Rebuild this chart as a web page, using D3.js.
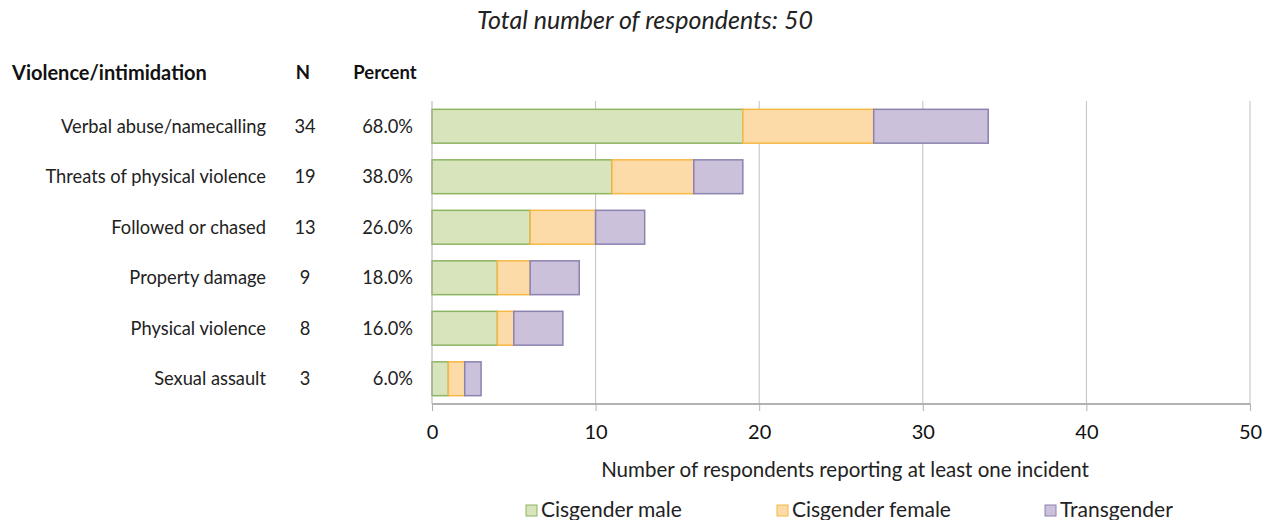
<!DOCTYPE html>
<html>
<head>
<meta charset="utf-8">
<script src="https://cdn.jsdelivr.net/npm/d3@7"></script>
<style>
  body { margin: 0; background: #fff; }
  svg { display: block; font-family: Lato, "Open Sans", sans-serif; }
</style>
</head>
<body>
<svg id="chart" width="1272" height="520"></svg>
<script>
// Incident categories and counts by respondent group
const categories = ["Verbal abuse/namecalling", "Threats of physical violence", "Followed or chased",
  "Property damage", "Physical violence", "Sexual assault"];
const cisMale   = [19, 11, 6, 4, 4, 1];
const cisFemale = [8, 5, 4, 2, 1, 1];
const transgender = [7, 3, 3, 3, 3, 1];
const totalN = [34, 19, 13, 9, 8, 3];
const percents = ["68.0%", "38.0%", "26.0%", "18.0%", "16.0%", "6.0%"];
const seriesNames = ["Cisgender male", "Cisgender female", "Transgender"];
const xTicks = [0, 10, 20, 30, 40, 50];
const respondents = 50;

const fills = ["#d8e4bc", "#fddba8", "#cbc1da"];
const strokes = ["#8cb461", "#f6b744", "#8b82b0"];

const svg = d3.select("#chart");
const plotLeft = 432, plotRight = 1250, plotTop = 101, plotBottom = 404;

const x = d3.scaleLinear().domain([0, 50]).range([plotLeft, plotRight]);
const y = d3.scaleBand().domain(categories).range([plotTop, plotBottom]).paddingInner(0.33).paddingOuter(0.165);

// Title
svg.append("text").attr("x", 645).attr("y", 29).attr("text-anchor", "middle")
  .attr("font-size", 25).attr("font-style", "italic").attr("fill", "#222")
  .text(`Total number of respondents: ${respondents}`);

// Column headers
const hdr = svg.append("g").attr("font-weight", "bold").attr("fill", "#111");
hdr.append("text").attr("x", 12).attr("y", 80).attr("font-size", 20).text("Violence/intimidation");
hdr.append("text").attr("x", 303).attr("y", 79).attr("text-anchor", "middle").attr("font-size", 18.5).text("N");
hdr.append("text").attr("x", 385).attr("y", 79).attr("text-anchor", "middle").attr("font-size", 18.5).text("Percent");

// Gridlines
svg.append("g").selectAll("line").data(xTicks.slice(1)).join("line")
  .attr("x1", d => x(d)).attr("x2", d => x(d)).attr("y1", plotTop).attr("y2", plotBottom)
  .attr("stroke", "#c0c0c0").attr("stroke-width", 1);

// Stacked bars
const rows = categories.map((c, i) => ({ cat: c, v: [cisMale[i], cisFemale[i], transgender[i]] }));
const stack = d3.stack().keys([0, 1, 2]).value((d, k) => d.v[k]);
const layers = stack(rows);
svg.append("g").selectAll("g").data(layers).join("g")
  .attr("fill", (d, i) => fills[i]).attr("stroke", (d, i) => strokes[i]).attr("stroke-width", 1.5)
  .selectAll("rect").data(d => d).join("rect")
  .attr("x", d => x(d[0])).attr("width", d => x(d[1]) - x(d[0]))
  .attr("y", d => y(d.data.cat)).attr("height", y.bandwidth());

// Axis
const axis = svg.append("g").attr("transform", `translate(0,${plotBottom})`)
  .call(d3.axisBottom(x).tickValues(xTicks).tickSize(7).tickPadding(14));
axis.select(".domain").attr("stroke", "#999").attr("stroke-width", 1.5).attr("d", `M${plotLeft},0H${plotRight}`);
axis.selectAll(".tick line").attr("stroke", "#b0b0b0");
axis.selectAll(".tick text").attr("font-size", 20).attr("fill", "#111").attr("font-family", "Lato, sans-serif");
// vertical axis line at zero
svg.append("line").attr("x1", plotLeft).attr("x2", plotLeft).attr("y1", plotTop).attr("y2", plotBottom)
  .attr("stroke", "#b0b0b0");

// Row labels
const rowG = svg.append("g").attr("font-size", 18.3).attr("fill", "#222");
rowG.selectAll(".cat").data(categories).join("text")
  .attr("x", 266).attr("y", d => y(d) + y.bandwidth() / 2).attr("dy", "0.35em")
  .attr("text-anchor", "end").text(d => d);
rowG.selectAll(".n").data(totalN).join("text")
  .attr("x", 305).attr("y", (d, i) => y(categories[i]) + y.bandwidth() / 2).attr("dy", "0.35em")
  .attr("text-anchor", "middle").text(d => d);
rowG.selectAll(".pct").data(percents).join("text")
  .attr("x", 413).attr("y", (d, i) => y(categories[i]) + y.bandwidth() / 2).attr("dy", "0.35em")
  .attr("text-anchor", "end").text(d => d);

// Axis title
svg.append("text").attr("x", 845).attr("y", 477).attr("text-anchor", "middle")
  .attr("font-size", 20.5).attr("fill", "#222")
  .text("Number of respondents reporting at least one incident");

// Legend
const legX = [526, 777, 1045];
const leg = svg.append("g").selectAll("g").data(seriesNames).join("g")
  .attr("transform", (d, i) => `translate(${legX[i]},505)`);
leg.append("rect").attr("width", 11).attr("height", 11)
  .attr("fill", (d, i) => fills[i]).attr("stroke", (d, i) => strokes[i]);
leg.append("text").attr("x", 15).attr("y", 12).attr("font-size", 21).attr("fill", "#222").text(d => d);
</script>
</body>
</html>
